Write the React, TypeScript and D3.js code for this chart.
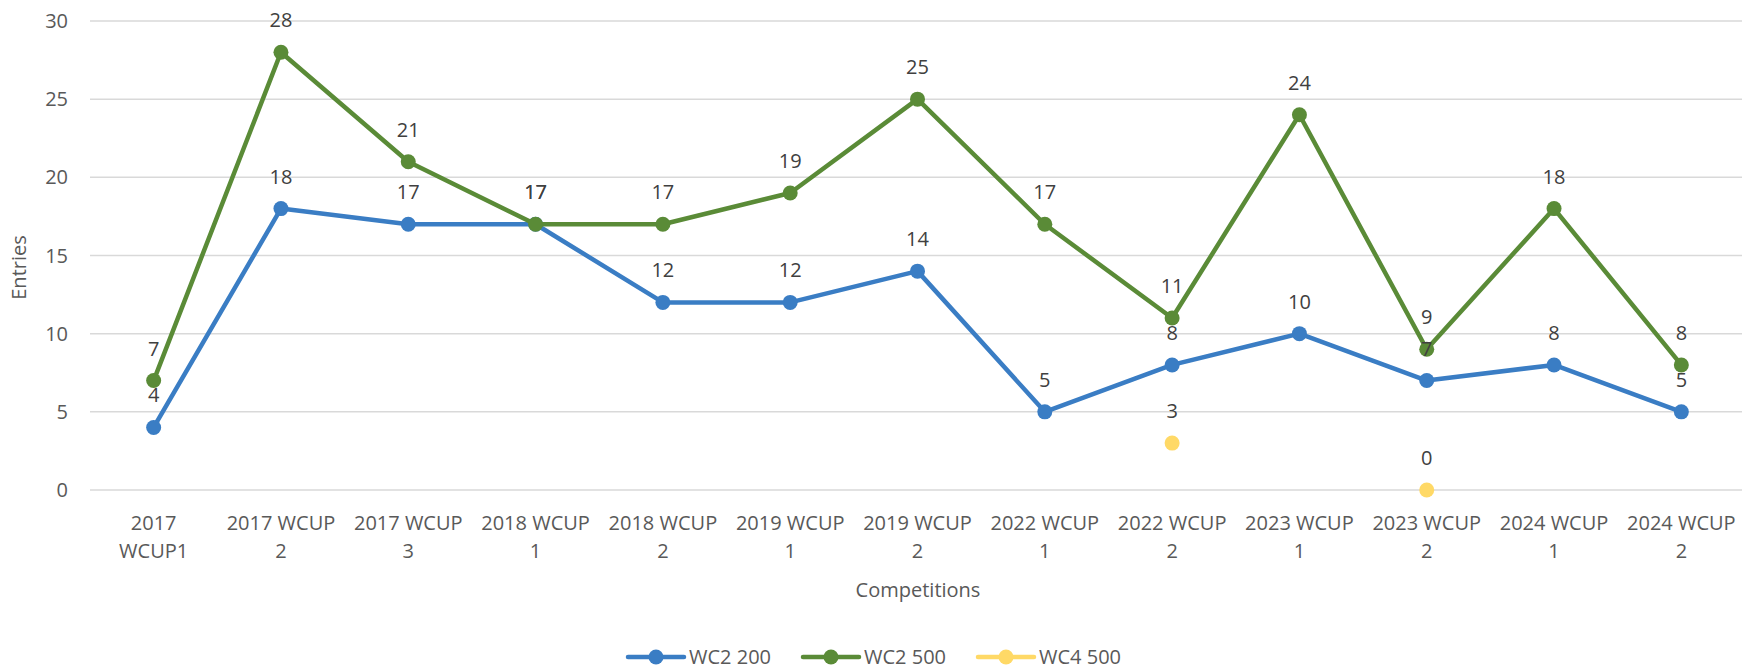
import React from 'react';
import * as d3 from 'd3';

const competitions = [
    '2017 WCUP1', '2017 WCUP 2', '2017 WCUP 3', '2018 WCUP 1', '2018 WCUP 2',
    '2019 WCUP 1', '2019 WCUP 2', '2022 WCUP 1', '2022 WCUP 2', '2023 WCUP 1',
    '2023 WCUP 2', '2024 WCUP 1', '2024 WCUP 2'
];
const wc2_200 = [4, 18, 17, 17, 12, 12, 14, 5, 8, 10, 7, 8, 5];
const wc2_500 = [7, 28, 21, 17, 17, 19, 25, 17, 11, 24, 9, 18, 8];
const wc4_500 = [null, null, null, null, null, null, null, null, 3, null, 0, null, null];
const yTicks = [0, 5, 10, 15, 20, 25, 30];

const series = [
    { name: 'WC2 200', values: wc2_200, color: '#3A7DC4', line: true },
    { name: 'WC2 500', values: wc2_500, color: '#5A8B37', line: true },
    { name: 'WC4 500', values: wc4_500, color: '#FFD966', line: false }
];

const W = 1744;
const H = 670;
const margin = { top: 21, right: 0, bottom: 180, left: 90 };
const font = '"Open Sans", "Noto Sans", sans-serif';

export default function App() {
    const x = d3
        .scaleBand()
        .domain(competitions)
        .range([margin.left, 1745]);

    const y = d3
        .scaleLinear()
        .domain([0, 30])
        .range([490, margin.top]);

    const cx = (c) => x(c) + x.bandwidth() / 2;

    const line = d3
        .line()
        .defined((d) => d != null)
        .x((d, i) => cx(competitions[i]))
        .y((d) => y(d));

    // split "2017 WCUP 2" into two lines at the last space
    const splitLabel = (s) => {
        const k = s.lastIndexOf(' ');
        return [s.slice(0, k), s.slice(k + 1)];
    };

    const legendX = [628, 803, 978];

    return (
        <div style={{ position: 'absolute', left: 0, top: 0 }}>
            <svg width={W} height={H} style={{ display: 'block', background: '#fff' }} fontFamily={font}>
                {yTicks.map((t) => (
                    <g key={t}>
                        <line x1={margin.left} x2={1742} y1={y(t)} y2={y(t)} stroke="#D9D9D9" strokeWidth={1.5} />
                        <text x={68} y={y(t)} dy="0.35em" textAnchor="end" fontSize={20} fill="#595959">{t}</text>
                    </g>
                ))}

                {competitions.map((c) => {
                    const [a, b] = splitLabel(c);
                    return (
                        <text key={c} x={cx(c)} textAnchor="middle" fontSize={20} fill="#595959">
                            <tspan x={cx(c)} y={530}>{a}</tspan>
                            <tspan x={cx(c)} y={558}>{b}</tspan>
                        </text>
                    );
                })}

                <text
                    transform={`translate(26, ${y(15) + 12}) rotate(-90)`}
                    textAnchor="middle"
                    fontSize={20}
                    fill="#595959"
                >
                    Entries
                </text>
                <text x={918} y={597} textAnchor="middle" fontSize={20} fill="#595959">Competitions</text>

                {series.map((s) => (
                    <g key={s.name}>
                        {s.line && (
                            <path
                                d={line(s.values)}
                                fill="none"
                                stroke={s.color}
                                strokeWidth={4.5}
                                strokeLinejoin="round"
                            />
                        )}
                        {s.values.map((v, i) =>
                            v == null ? null : (
                                <circle key={i} cx={cx(competitions[i])} cy={y(v)} r={7.5} fill={s.color} />
                            )
                        )}
                    </g>
                ))}

                {series.map((s) => (
                    <g key={s.name + '-labels'}>
                        {s.values.map((v, i) =>
                            v == null ? null : (
                                <text
                                    key={i}
                                    x={cx(competitions[i])}
                                    y={y(v) - 32}
                                    dy="0.35em"
                                    textAnchor="middle"
                                    fontSize={20}
                                    fill="#404040"
                                >
                                    {v}
                                </text>
                            )
                        )}
                    </g>
                ))}

                {series.map((s, i) => (
                    <g key={s.name + '-legend'} transform={`translate(${legendX[i]}, 657)`}>
                        <line x1={0} x2={56} y1={0} y2={0} stroke={s.color} strokeWidth={4.5} strokeLinecap="round" />
                        <circle cx={28} cy={0} r={7.5} fill={s.color} />
                        <text x={61} y={0} dy="0.35em" fontSize={20} fill="#595959">{s.name}</text>
                    </g>
                ))}
            </svg>
        </div>
    );
}
